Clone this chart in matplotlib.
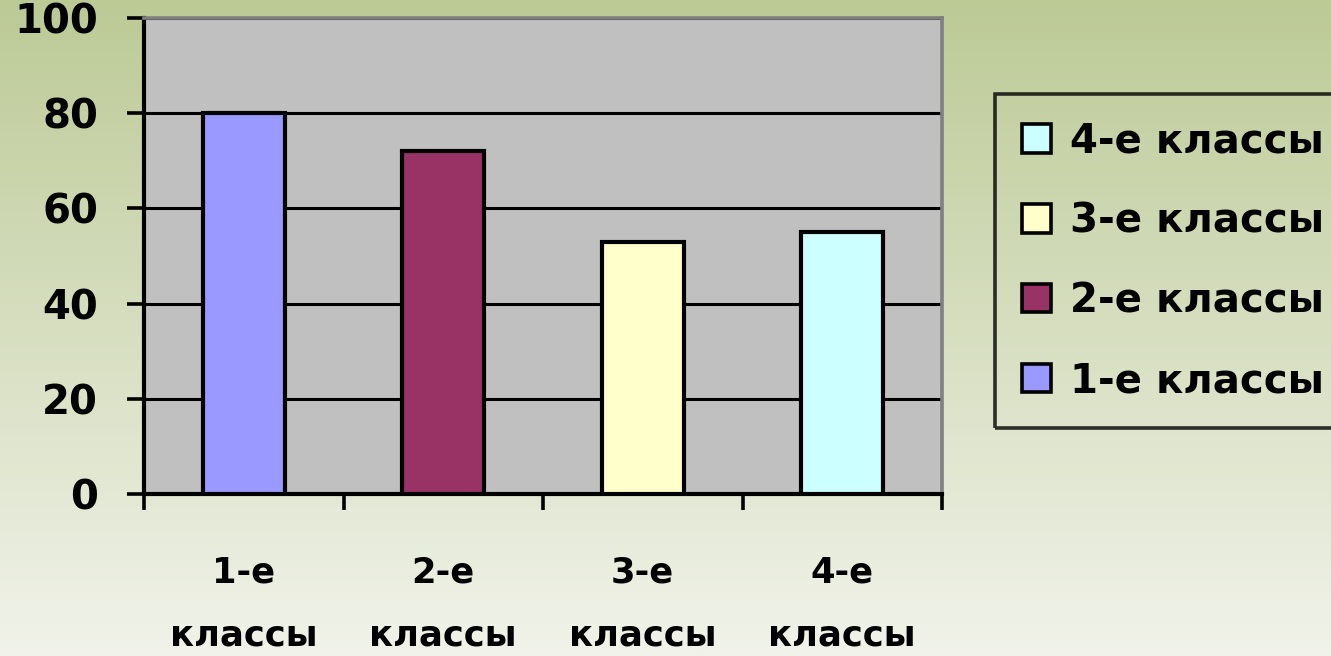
import matplotlib.pyplot as plt
import numpy as np
from matplotlib.patches import Patch

categories = ['1-е\nклассы', '2-е\nклассы', '3-е\nклассы', '4-е\nклассы']
legend_labels = ['1-е классы', '2-е классы', '3-е классы', '4-е классы']
values = [80, 72, 53, 55]
colors = ['#9999FF', '#993366', '#FFFFCC', '#CCFFFF']
yticks = [0, 20, 40, 60, 80, 100]

W, H = 1331, 656
fig = plt.figure(figsize=(W / 100, H / 100), dpi=100)

# vertical green-to-white gradient behind everything
bg = fig.add_axes([0, 0, 1, 1], zorder=-10)
top = np.array([188, 202, 150]) / 255
bottom = np.array([241, 243, 234]) / 255
t = np.linspace(0, 1, 256)[:, None]
grad = top + (bottom - top) * t
bg.imshow(grad[:, None, :], aspect='auto', extent=[0, 1, 0, 1])
bg.axis('off')

ax = fig.add_axes([144 / W, 1 - 494 / H, (942 - 144) / W, (494 - 18) / H])
ax.set_facecolor('#C0C0C0')

x = np.arange(len(values))
bars = ax.bar(x, values, width=0.41, color=colors, edgecolor='black',
              linewidth=3.0, zorder=3)

ax.set_xlim(-0.5, len(values) - 0.5)
ax.set_ylim(0, 100)

ax.set_yticks(yticks)
ax.yaxis.grid(True, color='black', linewidth=2.2)
ax.set_axisbelow(True)

# tick marks on category boundaries, labels in the middle
ax.set_xticks(np.arange(len(values) + 1) - 0.5)
ax.set_xticklabels([])
ax.set_xticks(x, categories, minor=True)
ax.tick_params(axis='x', which='minor', length=0, pad=44)
ax.tick_params(axis='x', which='major', direction='out', length=11.5, width=2.6)
ax.tick_params(axis='y', direction='out', length=12, width=2.6, pad=21,
               labelsize=29)
for lab in ax.get_yticklabels():
    lab.set_fontweight('bold')
for lab in ax.get_xticklabels(minor=True):
    lab.set_fontweight('bold')
    lab.set_fontsize(25.5)
    lab.set_linespacing(2.1)

for side in ('left', 'bottom'):
    ax.spines[side].set_color('black')
    ax.spines[side].set_linewidth(3.0)
for side in ('top', 'right'):
    ax.spines[side].set_color('#808080')
    ax.spines[side].set_linewidth(2.6)

handles = [Patch(facecolor=c, edgecolor='black', linewidth=2.6) for c in colors]
leg = fig.legend(handles[::-1], legend_labels[::-1], loc='upper left',
                 bbox_to_anchor=(995 / W, 1 - 94 / H), bbox_transform=fig.transFigure,
                 prop={'size': 29, 'weight': 'bold'}, handlelength=0.72,
                 handleheight=0.72, handletextpad=0.45, labelspacing=0.99,
                 borderpad=0.68, borderaxespad=0, fancybox=False, frameon=True)
leg.get_frame().set_edgecolor('black')
leg.get_frame().set_linewidth(2.6)
leg.get_frame().set_facecolor('none')

fig.savefig('out.png', dpi=100)
